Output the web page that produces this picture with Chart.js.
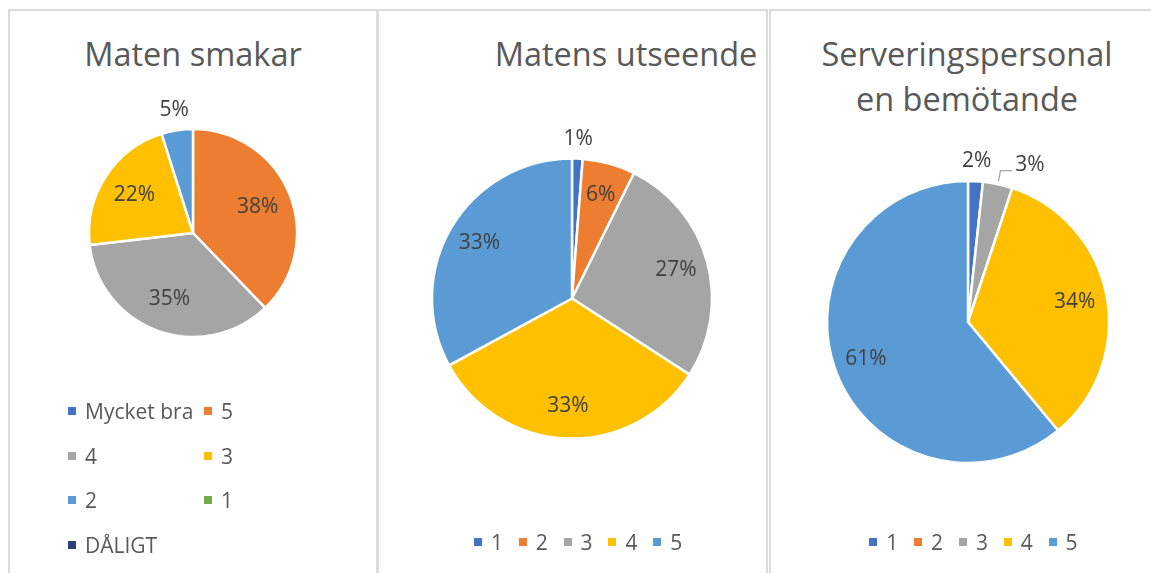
<!DOCTYPE html>
<html>
<head>
<meta charset="utf-8">
<script src="https://cdn.jsdelivr.net/npm/chart.js@4.4.1/dist/chart.umd.min.js"></script>
<style>
  body { margin: 0; width: 1151px; height: 573px; overflow: hidden; background: #fff; position: relative; font-family: "Open Sans", sans-serif; }
  .ram { position: absolute; top: 9px; height: 620px; border: 2px solid #dcdcdc; box-sizing: border-box; }
  .titel { position: absolute; top: 31px; line-height: 45px; font-size: 32.5px; color: #595959; white-space: nowrap; text-align: center; transform: translateX(-50%); }
  .duk { position: absolute; }
  .post { position: absolute; height: 24px; display: flex; align-items: center; font-size: 21px; color: #595959; white-space: nowrap; }
  .post i { display: inline-block; width: 8px; height: 8px; margin-right: 9px; }
</style>
</head>
<body>

<div class="ram" style="left:8px;width:370px"></div>
<div class="ram" style="left:377px;width:391px"></div>
<div class="ram" style="left:769px;width:400px"></div>

<div class="titel" style="left:193px">Maten smakar</div>
<div class="titel" style="left:626px">Matens utseende</div>
<div class="titel" style="left:967px">Serveringspersonal<br>en bemötande</div>

<div class="duk" id="ruta1"><canvas id="paj1"></canvas></div>
<div class="duk" id="ruta2"><canvas id="paj2"></canvas></div>
<div class="duk" id="ruta3"><canvas id="paj3"></canvas></div>

<script>
// antal svar per betyg
const smakKategorier = ['Mycket bra', '5', '4', '3', '2', '1', 'DÅLIGT']
const smakAntal = [0, 31, 29, 18, 4, 0, 0]

const utseendeKategorier = ['1', '2', '3', '4', '5']
const utseendeAntal = [1, 5, 22, 27, 27]

const bemotandeKategorier = ['1', '2', '3', '4', '5']
const bemotandeAntal = [1, 0, 2, 20, 36]

const farger = ['#4472C4', '#ED7D31', '#A5A5A5', '#FFC000', '#5B9BD5', '#70AD47', '#264478']


/* procentetiketter, inne i tårtbiten eller utanför om den är liten */
const procentPlugin = {
    id: 'procent',
    afterDatasetsDraw(chart, args, opts) {
        const ctx = chart.ctx
        const data = chart.data.datasets[0].data
        const total = data.reduce((a, b) => a + b, 0)
        const meta = chart.getDatasetMeta(0)
        const placerade = []

        ctx.save()
        ctx.font = '21px "Open Sans"'
        ctx.fillStyle = '#404040'
        ctx.textAlign = 'center'
        ctx.textBaseline = 'middle'

        meta.data.forEach((arc, i) => {
            const v = data[i]
            if (!v) return
            const p = arc.getProps(['x', 'y', 'startAngle', 'endAngle', 'outerRadius'], true)
            const mitt = (p.startAngle + p.endAngle) / 2
            const pct = v / total * 100
            const text = Math.round(pct) + '%'
            const w = ctx.measureText(text).width

            if (pct >= opts.grans) {
                const d = p.outerRadius * opts.inne
                ctx.fillText(text, p.x + Math.cos(mitt) * d, p.y + Math.sin(mitt) * d)
                return
            }

            const d = p.outerRadius + opts.ute
            let lx = p.x + Math.cos(mitt) * d
            const ly = p.y + Math.sin(mitt) * d
            const forra = placerade[placerade.length - 1]
            if (forra && lx - w / 2 < forra.right && Math.abs(ly - forra.y) < 20) {
                const nx = forra.right + 24 + w / 2
                const ax = p.x + Math.cos(mitt) * (p.outerRadius + 3)
                const ay = p.y + Math.sin(mitt) * (p.outerRadius + 3)
                ctx.strokeStyle = '#A6A6A6'
                ctx.lineWidth = 1.3
                ctx.beginPath()
                ctx.moveTo(ax, ay)
                ctx.lineTo(ax + 2, ly + 6)
                ctx.lineTo(nx - w / 2 - 3, ly + 6)
                ctx.stroke()
                lx = nx
            }
            ctx.fillText(text, lx, ly)
            placerade.push({ right: lx + w / 2, y: ly })
        })
        ctx.restore()
    }
}


const ritaPaj = (id, rutaId, kategorier, antal, ruta, cx, cy, r, inne) => {
    const div = document.getElementById(rutaId)
    div.style.left = ruta.x + 'px'
    div.style.top = ruta.y + 'px'
    div.style.width = ruta.w + 'px'
    div.style.height = ruta.h + 'px'

    new Chart(document.getElementById(id), {
        type: 'pie',
        data: {
            labels: kategorier,
            datasets: [{
                data: antal,
                backgroundColor: farger.slice(0, kategorier.length),
                borderColor: '#ffffff',
                borderWidth: 2.5,
                radius: r
            }]
        },
        options: {
            responsive: true,
            maintainAspectRatio: false,
            animation: false,
            events: [],
            layout: {
                padding: {
                    left: cx - r - ruta.x,
                    right: ruta.x + ruta.w - (cx + r),
                    top: cy - r - ruta.y,
                    bottom: ruta.y + ruta.h - (cy + r)
                }
            },
            plugins: {
                legend: { display: false },
                tooltip: { enabled: false },
                procent: { grans: 5.5, inne: inne, ute: 20 }
            }
        },
        plugins: [procentPlugin]
    })
}

const byggLegend = (kategorier, platser) => {
    kategorier.forEach((k, i) => {
        const el = document.createElement('div')
        el.className = 'post'
        el.style.left = platser[i][0] + 'px'
        el.style.top = (platser[i][1] - 12) + 'px'
        el.innerHTML = '<i style="background:' + farger[i] + '"></i>' + k
        document.body.appendChild(el)
    })
}


ritaPaj('paj1', 'ruta1', smakKategorier, smakAntal, { x: 10, y: 12, w: 366, h: 561 }, 193, 233, 104, 0.67)
ritaPaj('paj2', 'ruta2', utseendeKategorier, utseendeAntal, { x: 379, y: 12, w: 387, h: 561 }, 572, 298.5, 140, 0.77)
ritaPaj('paj3', 'ruta3', bemotandeKategorier, bemotandeAntal, { x: 771, y: 12, w: 380, h: 561 }, 968, 322, 141, 0.77)

// förklaringar
const kolumner = [68, 204]
const rader = [410.7, 455.7, 500, 545]
byggLegend(smakKategorier, smakKategorier.map((k, i) => [kolumner[i % 2], rader[Math.floor(i / 2)]]))
byggLegend(utseendeKategorier, utseendeKategorier.map((k, i) => [474 + i * 44.8, 541.7]))
byggLegend(bemotandeKategorier, bemotandeKategorier.map((k, i) => [869.3 + i * 44.8, 541.7]))
</script>
</body>
</html>
